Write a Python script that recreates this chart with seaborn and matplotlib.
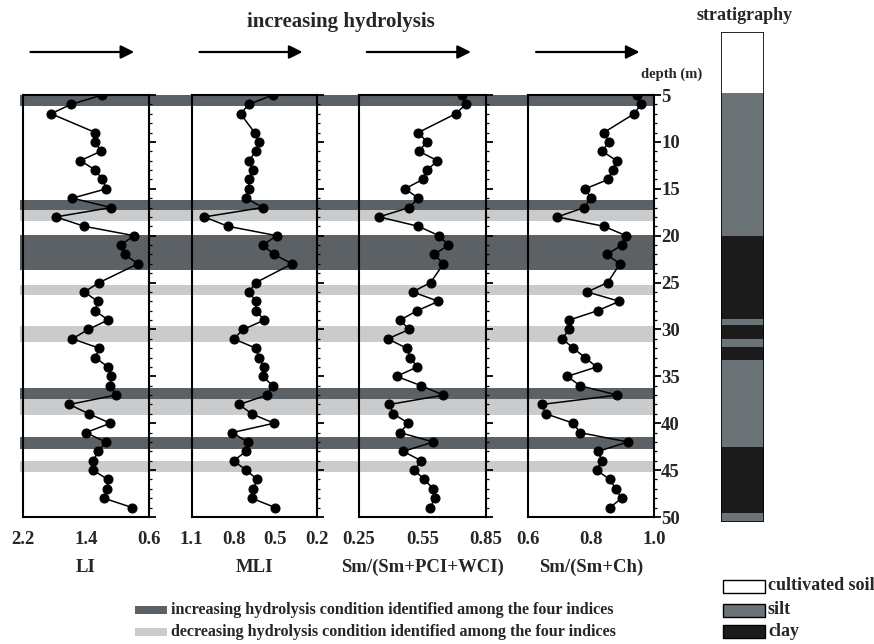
import matplotlib
matplotlib.use("Agg")
import matplotlib.pyplot as plt
import numpy as np
import pandas as pd
import seaborn as sns
from matplotlib.patches import Rectangle, FancyArrowPatch
from matplotlib.ticker import MultipleLocator

# ---- data -------------------------------------------------------------
depth = [5, 6, 7, 9, 10, 11, 12, 13, 14, 15, 16, 17, 18, 19, 20, 21, 22, 23,
         25, 26, 27, 28, 29, 30, 31, 32, 33, 34, 35, 36, 37, 38, 39, 40, 41,
         42, 43, 44, 45, 46, 47, 48, 49]

li = [1.19, 1.59, 1.84, 1.28, 1.28, 1.21, 1.47, 1.28, 1.19, 1.14, 1.57, 1.08,
      1.78, 1.42, 0.79, 0.96, 0.91, 0.74, 1.23, 1.42, 1.25, 1.28, 1.12, 1.37,
      1.57, 1.23, 1.28, 1.12, 1.08, 1.09, 1.02, 1.61, 1.36, 1.09, 1.40, 1.15,
      1.24, 1.31, 1.31, 1.12, 1.13, 1.17, 0.81]

mli = [0.52, 0.69, 0.75, 0.65, 0.62, 0.64, 0.69, 0.66, 0.69, 0.69, 0.71, 0.59,
       1.01, 0.84, 0.49, 0.59, 0.51, 0.38, 0.64, 0.69, 0.64, 0.64, 0.58, 0.73,
       0.80, 0.64, 0.62, 0.58, 0.59, 0.52, 0.56, 0.76, 0.67, 0.51, 0.81, 0.70,
       0.71, 0.80, 0.71, 0.63, 0.66, 0.67, 0.50]

sm_pci_wci = [0.736, 0.755, 0.708, 0.531, 0.571, 0.534, 0.621, 0.574, 0.552,
              0.468, 0.531, 0.488, 0.345, 0.531, 0.629, 0.673, 0.607, 0.650,
              0.589, 0.504, 0.626, 0.526, 0.444, 0.488, 0.386, 0.476, 0.492,
              0.526, 0.428, 0.544, 0.650, 0.394, 0.413, 0.484, 0.444, 0.602,
              0.460, 0.544, 0.512, 0.559, 0.602, 0.610, 0.586]

sm_ch = [0.944, 0.958, 0.936, 0.840, 0.856, 0.835, 0.880, 0.868, 0.854, 0.781,
         0.799, 0.778, 0.692, 0.840, 0.910, 0.898, 0.849, 0.891, 0.852, 0.787,
         0.889, 0.820, 0.730, 0.729, 0.708, 0.743, 0.780, 0.817, 0.724, 0.764,
         0.883, 0.642, 0.656, 0.743, 0.764, 0.916, 0.822, 0.833, 0.817, 0.859,
         0.878, 0.896, 0.859]

index_names = ["LI", "MLI", "Sm/(Sm+PCI+WCI)", "Sm/(Sm+Ch)"]
index_ticks = [[2.2, 1.4, 0.6], [1.1, 0.8, 0.5, 0.2], [0.25, 0.55, 0.85],
               [0.6, 0.8, 1.0]]
index_ticklabels = [["2.2", "1.4", "0.6"], ["1.1", "0.8", "0.5", "0.2"],
                    ["0.25", "0.55", "0.85"], ["0.6", "0.8", "1.0"]]

# depth intervals (m) of increasing / decreasing hydrolysis
increasing_bands = [(5.0, 6.2), (16.2, 17.3), (19.9, 23.7), (36.2, 37.4),
                    (41.5, 42.8)]
decreasing_bands = [(17.3, 18.4), (25.3, 26.3), (29.6, 31.3), (37.4, 39.1),
                    (44.0, 45.2)]

# stratigraphic column (lithology, top, bottom) in m
strat_layers = [("cultivated soil", -1.7, 4.8), ("silt", 4.8, 20.1),
                ("clay", 20.1, 28.9), ("silt", 28.9, 29.6),
                ("clay", 29.6, 31.1), ("silt", 31.1, 31.9),
                ("clay", 31.9, 33.3), ("silt", 33.3, 42.6),
                ("clay", 42.6, 49.6), ("silt", 49.6, 50.6)]
depth_ticks = [5, 10, 15, 20, 25, 30, 35, 40, 45, 50]

# ---- style ------------------------------------------------------------
sns.set_theme(style="white")
plt.rcParams["font.family"] = ["Liberation Serif", "DejaVu Serif"]
plt.rcParams["font.weight"] = "bold"

DARK = "#5c6166"
LIGHT = "#c9cbcd"
SILT = "#6c7377"
CLAY = "#1b1b1b"
lith_color = {"cultivated soil": "white", "silt": SILT, "clay": CLAY}

W, H = 874, 644
fig = plt.figure(figsize=(W / 100, H / 100), dpi=100)
fig.patch.set_facecolor("white")


def rect(x0, y0, x1, y1):
    return [x0 / W, 1 - y1 / H, (x1 - x0) / W, (y1 - y0) / H]


def fx(x):
    return x / W


def fy(y):
    return 1 - y / H


TOP, BOT = 95, 517

# hydrolysis bands spanning all four panels
bg = fig.add_axes(rect(20, TOP, 654, BOT), zorder=0)
bg.set_xlim(0, 1)
bg.set_ylim(50, 5)
bg.axis("off")
for a, b in increasing_bands:
    bg.axhspan(a, b, color=DARK, lw=0)
for a, b in decreasing_bands:
    bg.axhspan(a, b, color=LIGHT, lw=0)

panel_x = [(22.7, 149), (191.7, 317.3), (359, 485.7), (528.3, 654.3)]
series = [li, mli, sm_pci_wci, sm_ch]

for i, (name, (x0, x1), vals, ticks, tlabels) in enumerate(
        zip(index_names, panel_x, series, index_ticks, index_ticklabels)):
    ax = fig.add_axes(rect(x0, TOP, x1, BOT), zorder=2)
    ax.patch.set_alpha(0)
    df = pd.DataFrame({"value": vals, "depth": depth})
    sns.lineplot(data=df, x="value", y="depth", orient="y", estimator=None,
                 color="black", lw=1.1, marker="o", markersize=6.5,
                 markeredgecolor="black", markerfacecolor="black", ax=ax)
    ax.set_xlim(ticks[0], ticks[-1])
    ax.set_ylim(50, 5)
    ax.set_xticks(ticks)
    ax.set_xticklabels(tlabels, fontsize=13.5, fontweight="bold")
    ax.set_xlabel(name, fontsize=13.5, fontweight="bold", labelpad=8)
    ax.set_ylabel("")
    ax.yaxis.tick_right()
    ax.yaxis.set_major_locator(MultipleLocator(5))
    ax.yaxis.set_minor_locator(MultipleLocator(1))
    ax.tick_params(axis="x", which="major", direction="out", length=5,
                   width=1.3, color="black", pad=5)
    ax.tick_params(axis="y", which="major", direction="out", length=5,
                   width=1.3, color="black", pad=0)
    ax.tick_params(axis="y", which="minor", direction="out", length=2.5,
                   width=0.9, color="black", right=True)
    if i == 3:
        ax.set_yticks(depth_ticks)
        ax.set_yticklabels([str(d) for d in depth_ticks], fontsize=13.5,
                           fontweight="bold")
    else:
        ax.set_yticklabels([])
    for s in ax.spines.values():
        s.set_color("black")
        s.set_linewidth(1.5)
        s.set_visible(True)

    # direction arrow above each panel
    arr = FancyArrowPatch((fx(x0 + 5), fy(52)), (fx(x1 - 12), fy(52)),
                          transform=fig.transFigure, arrowstyle="-|>",
                          mutation_scale=20, lw=1.6, color="black")
    fig.patches.append(arr)

fig.text(fx(341), fy(22), "increasing hydrolysis", ha="center", va="center",
         fontsize=15, fontweight="bold")
fig.text(fx(672), fy(74), "depth (m)", ha="center", va="center",
         fontsize=10.5, fontweight="bold")
fig.text(fx(745), fy(15), "stratigraphy", ha="center", va="center",
         fontsize=13, fontweight="bold")

# stratigraphic column
sax = fig.add_axes(rect(721, 32, 764, 522), zorder=2)
sax.set_xlim(0, 1)
sax.set_ylim(50.6, -1.7)
sax.axis("off")
for lith, a, b in strat_layers:
    sax.add_patch(Rectangle((0, a), 1, b - a, facecolor=lith_color[lith],
                            edgecolor="none"))
sax.add_patch(Rectangle((0, -1.7), 1, 52.3, facecolor="none",
                        edgecolor="black", lw=1.2))

# lithology legend
for k, (lith, yc) in enumerate([("cultivated soil", 586), ("silt", 610),
                                 ("clay", 631)]):
    fig.patches.append(Rectangle((fx(723), fy(yc + 6.5)), fx(42), 13 / H,
                                 transform=fig.transFigure,
                                 facecolor=lith_color[lith],
                                 edgecolor="black", lw=1))
    fig.text(fx(768), fy(yc), lith, ha="left", va="center", fontsize=13,
             fontweight="bold")

# hydrolysis legend
for color, yc, txt in [
        (DARK, 610, "increasing hydrolysis condition identified among the four indices"),
        (LIGHT, 632, "decreasing hydrolysis condition identified among the four indices")]:
    fig.patches.append(Rectangle((fx(135), fy(yc + 4)), fx(32), 8 / H,
                                 transform=fig.transFigure, facecolor=color,
                                 edgecolor="none"))
    fig.text(fx(171), fy(yc), txt, ha="left", va="center", fontsize=11.6,
             fontweight="bold")

fig.savefig("out.png", dpi=100, facecolor="white")
